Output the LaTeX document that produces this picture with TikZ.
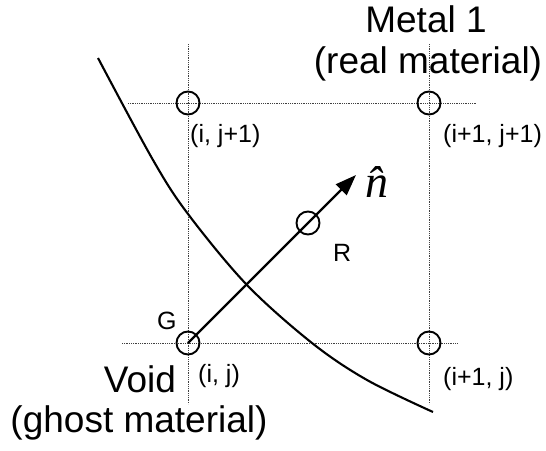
\documentclass[tikz,border=0pt]{standalone}
\usepackage{fontspec}
\setmainfont{Liberation Sans}
\newfontfamily\vecserif{Liberation Serif}
\usetikzlibrary{arrows.meta}
\begin{document}
\begin{tikzpicture}[x=1pt,y=-1pt,
  gridline/.style={line width=0.9pt, black!75, dash pattern=on 1pt off 0.8pt},
  gpoint/.style={circle, draw, line width=1.9pt, minimum size=23pt, inner sep=0pt},
  bigtxt/.style={font=\fontsize{37}{42}\selectfont, inner sep=0pt, anchor=base},
  smalltxt/.style={font=\fontsize{25}{29}\selectfont, inner sep=0pt, anchor=base west},
  normalarrow/.style={line width=2.4pt, -{Triangle[length=21pt,width=15pt]}},
  boundary/.style={line width=2.1pt}]
\useasboundingbox (0,0) rectangle (546,450);
% grid line end points
\coordinate (h1a) at (128,103); \coordinate (h1b) at (477,103);
\coordinate (h2a) at (122,343); \coordinate (h2b) at (457,343);
\coordinate (v1a) at (188,44);  \coordinate (v1b) at (188,404);
\coordinate (v2a) at (429,44);  \coordinate (v2b) at (429,404);
\draw[gridline] (h1a) -- (h1b);
\draw[gridline] (h2a) -- (h2b);
\draw[gridline] (v1a) -- (v1b);
\draw[gridline] (v2a) -- (v2b);
% grid points
\node[gpoint] (p01) at (188,103) {};
\node[gpoint] (p11) at (429,103) {};
\node[gpoint] (G) at (188,343) {};
\node[gpoint] (p10) at (429,343) {};
\node[gpoint] (R) at (308,223) {};
% interface
\draw[boundary] plot[smooth, tension=0.55] coordinates
  {(98,58) (153,160) (188,214) (247,285) (312,343) (367,380) (433,412)};
% normal arrow
\coordinate (ntip) at (356,175);
\draw[normalarrow] (G.center) -- (ntip);
\node[inner sep=0pt, anchor=base west, font=\vecserif\itshape\fontsize{46}{50}\selectfont] (nhat) at (365,197) {\^{n}};
% labels
\node[bigtxt] (metal) at (426,32) {Metal 1};
\node[bigtxt] (real) at (428,73) {(real material)};
\node[bigtxt] (void) at (140,392) {Void};
\node[bigtxt] (ghost) at (139,432) {(ghost material)};
\node[smalltxt] (l01) at (190,142) {(i, j+1)};
\node[smalltxt] (l11) at (443,142) {(i+1, j+1)};
\node[smalltxt] (l00) at (198,382) {(i, j)};
\node[smalltxt] (l10) at (443,385) {(i+1, j)};
\node[smalltxt] (lR) at (333,261) {R};
\node[smalltxt] (lG) at (157,329) {G};
\end{tikzpicture}
\end{document}
